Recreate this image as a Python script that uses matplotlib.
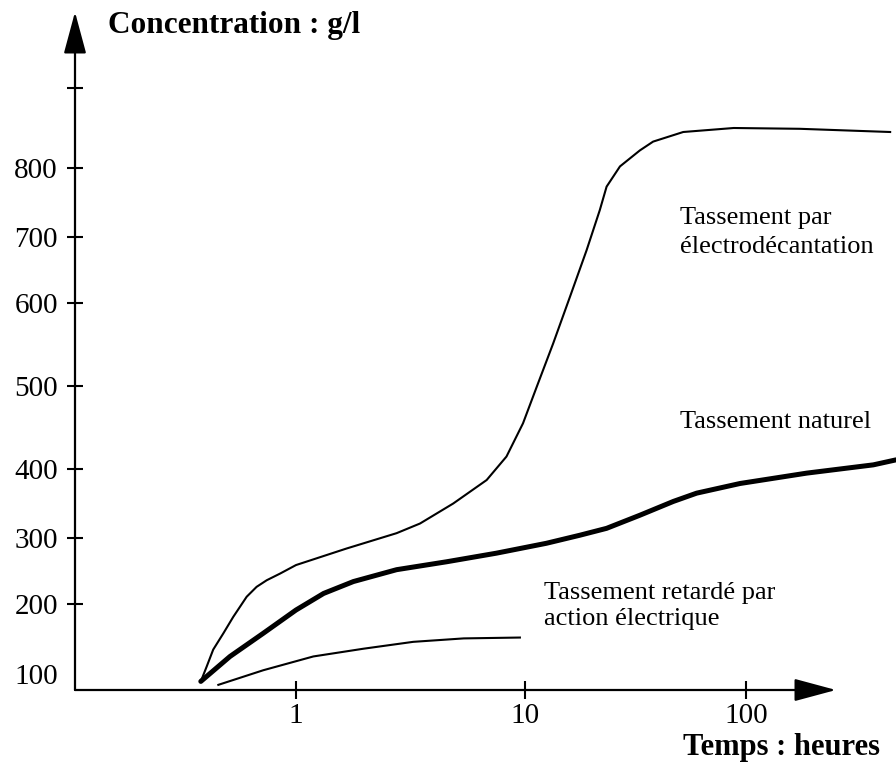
import numpy as np
import matplotlib.pyplot as plt

plt.rcParams['font.family'] = ['Liberation Serif', 'DejaVu Serif']

# temps (heures) et concentration (g/l)
t_electro = [0.384, 0.407, 0.435, 0.482, 0.532, 0.609, 0.673, 0.745, 0.851, 1.0, 1.66,
             2.75, 3.48, 4.86, 6.8, 8.3, 9.8, 11.3, 13.4, 16.0, 19.0, 21.8, 23.4, 26.9,
             33.1, 38, 52, 88, 175, 449]
c_electro = [110, 127, 147, 166, 185, 211, 226, 236, 246, 259, 284,
             307, 321, 350, 384, 415, 455, 499, 551, 610, 680, 739, 773, 802,
             822, 833, 845, 850, 849, 845]

t_naturel = [0.384, 0.515, 0.72, 1.0, 1.32, 1.78, 2.75, 4.55, 7.5, 12.5, 17.7,
             23.4, 33.1, 46.9, 59.8, 94, 188, 377, 477]
c_naturel = [110, 139, 166, 193, 216, 234, 252, 264, 277, 292, 304,
             314, 333, 353, 365, 379, 394, 405, 411]

t_retard = [0.458, 0.72, 1.19, 1.97, 3.25, 5.4, 9.5]
c_retard = [106, 123, 139, 148, 156, 160, 161]

x_ticks = [1, 10, 100]
x_labels = ['1', '10', '100']
y_ticks = [200, 300, 400, 500, 600, 700, 800, 900]
y_labels = ['200', '300', '400', '500', '600', '700', '800', '']

# graduations tracees a la main : echelles non regulieres
x_dec = [-1, 0, 1, 2, 3]
x_px = [67, 296, 525, 746, 967]
y_val = [0, 100, 200, 300, 400, 500, 600, 700, 800, 900, 1000]
y_px = [-86, 0, 86, 152, 221, 304, 387, 453, 522, 602, 682]


def fx(x):
    return np.interp(np.log10(np.clip(np.asarray(x, float), 1e-9, None)), x_dec, x_px)


def fx_inv(p):
    return 10 ** np.interp(p, x_px, x_dec)


def fy(y):
    return np.interp(y, y_val, y_px)


def fy_inv(p):
    return np.interp(p, y_px, y_val)


fig = plt.figure(figsize=(8.96, 7.64), dpi=100)
ax = fig.add_axes([75/896, 74/764, 821/896, 682/764])
ax.set_xscale('function', functions=(fx, fx_inv))
ax.set_yscale('function', functions=(fy, fy_inv))
ax.set_xlim(fx_inv(75), fx_inv(896))
ax.set_ylim(100, 1000)

ax.plot(t_electro, c_electro, color='black', lw=1.5)
ax.plot(t_naturel, c_naturel, color='black', lw=3.6, solid_capstyle='round')
ax.plot(t_retard, c_retard, color='black', lw=1.5)

for s in ax.spines.values():
    s.set_visible(False)
ax.set_xticks(x_ticks)
ax.set_xticklabels(x_labels)
ax.set_yticks(y_ticks)
ax.set_yticklabels(y_labels)
ax.xaxis.set_minor_locator(plt.NullLocator())
ax.yaxis.set_minor_locator(plt.NullLocator())
ax.tick_params(axis='x', direction='inout', length=13, width=1.5, pad=3, labelsize=21)
ax.tick_params(axis='y', direction='inout', length=11.5, width=1.5, pad=6.5, labelsize=21)

arrow = dict(arrowstyle='-|>,head_length=2.6,head_width=0.7', mutation_scale=10,
             lw=1.6, color='black', shrinkA=0, shrinkB=0)
ax.annotate('', xy=(0, 678/682), xytext=(0, 0), xycoords='axes fraction', arrowprops=arrow)
ax.annotate('', xy=(761/821, 0), xytext=(0, 0), xycoords='axes fraction', arrowprops=arrow)

ax.text(-17/821, 13/682, '100', transform=ax.transAxes, ha='right', va='center', fontsize=21)

fig.text(108/896, 1 - 25/764, 'Concentration : g/l', ha='left', va='center',
         fontsize=22.5, fontweight='bold')
fig.text(880/896, 1 - 747/764, 'Temps : heures', ha='right', va='center',
         fontsize=22, fontweight='bold')

ax.text(0.737, 0.671, 'Tassement par\nélectrodécantation', transform=ax.transAxes,
        ha='left', va='center', fontsize=19, linespacing=1.42)
ax.text(0.737, 0.393, 'Tassement naturel', transform=ax.transAxes,
        ha='left', va='center', fontsize=19)
ax.text(0.571, 0.123, 'Tassement retardé par\naction électrique', transform=ax.transAxes,
        ha='left', va='center', fontsize=19, linespacing=1.22)

fig.savefig('out.png', dpi=100)
